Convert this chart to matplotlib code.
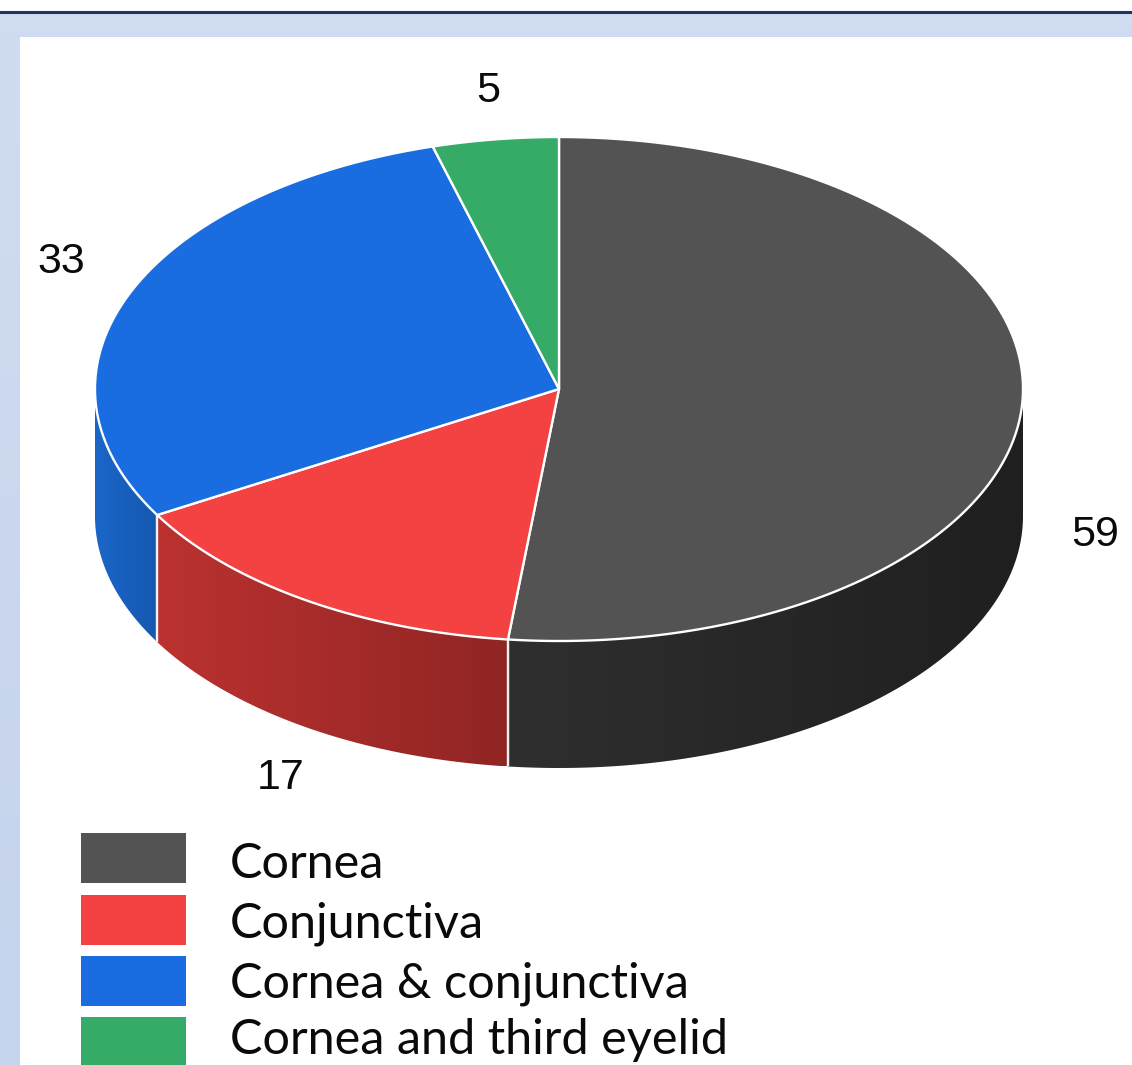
import numpy as np
import matplotlib
matplotlib.use('Agg')
import matplotlib.pyplot as plt
from matplotlib.patches import Polygon, Rectangle
from matplotlib.colors import to_rgb

# data
labels = ['Cornea', 'Conjunctiva', 'Cornea & conjunctiva', 'Cornea and third eyelid']
values = [59, 17, 33, 5]
value_text = ['59', '17', '33', '5']
colors = ['#535353', '#f44141', '#196de0', '#36ab68']
side_left = ['#2f2f2f', '#bb3230', '#1a66c8', '#2a8a52']
side_right = ['#1f1f1f', '#902524', '#1558b0', '#2a8a52']

# pixel geometry
W, H = 1132, 1065
cx, cy = 559, 389
rx, ry = 464, 252
depth = 127

fig = plt.figure(figsize=(W / 100, H / 100), dpi=100)
ax = fig.add_axes([0, 0, 1, 1])

# slide background
bg = np.linspace(to_rgb('#d0dcf1'), to_rgb('#c5d3ec'), 64).reshape(64, 1, 3)
ax.imshow(bg, extent=[0, W, H, 13], aspect='auto', zorder=0)
ax.add_patch(Rectangle((0, 0), W, 10, fc='white', ec='none', zorder=0))
ax.plot([0, W], [11.5, 11.5], color='#1f3560', lw=2.2, zorder=1)
ax.add_patch(Rectangle((20, 37), W, H, fc='white', ec='none', zorder=1))


def rim(t):
    return cx + rx * np.sin(t), cy - ry * np.cos(t)


edges = np.radians(np.concatenate([[0], np.cumsum(values)]) / sum(values) * 360)

# sides first, only the part of the rim facing the viewer
for i in range(len(values)):
    a0, b0 = max(edges[i], np.pi / 2), min(edges[i + 1], np.pi * 1.5)
    if b0 <= a0:
        continue
    t = np.linspace(a0, b0, 200)
    x, y = rim(t)
    xl, xr = x.min(), x.max()
    pts = np.column_stack([np.r_[x, x[::-1]], np.r_[y, y[::-1] + depth]])
    shape = Polygon(pts, closed=True, fc='none', ec='none', transform=ax.transData)
    ax.add_patch(shape)
    grad = np.linspace(to_rgb(side_left[i]), to_rgb(side_right[i]), 256).reshape(1, 256, 3)
    im = ax.imshow(grad, extent=[xl, xr, y.max() + depth, y.min()], aspect='auto', zorder=2)
    im.set_clip_path(shape)
    for e in (edges[i], edges[i + 1]):
        if np.pi / 2 < e < np.pi * 1.5:
            ex, ey = rim(e)
            ax.plot([ex, ex], [ey, ey + depth], color='#f2f2f2', lw=1.6, zorder=3,
                    solid_capstyle='butt')

# top face
for i in range(len(values)):
    t = np.linspace(edges[i], edges[i + 1], 200)
    x, y = rim(t)
    pts = np.column_stack([np.r_[cx, x], np.r_[cy, y]])
    ax.add_patch(Polygon(pts, closed=True, fc=colors[i], ec='white', lw=1.7,
                         joinstyle='round', zorder=4))

# value labels
for s, px, py in zip(value_text, [1095, 281, 61, 488], [535, 778, 262, 91]):
    ax.text(px, py, s, fontsize=31, family='Liberation Sans', color='#0a0a0a',
            ha='center', va='center', zorder=5)

# legend
for i, (lab, py, base) in enumerate(zip(labels, [858, 920, 981, 1042], [878, 938, 998, 1054])):
    ax.add_patch(Rectangle((81, py - 25), 105, 50, fc=colors[i], ec='none', zorder=5))
    ax.text(230, base, lab, fontsize=35, family='Lato', color='#0a0a0a',
            ha='left', va='baseline', zorder=5)

ax.set_xlim(0, W)
ax.set_ylim(H, 0)
ax.axis('off')

fig.savefig('out.png', dpi=100)
